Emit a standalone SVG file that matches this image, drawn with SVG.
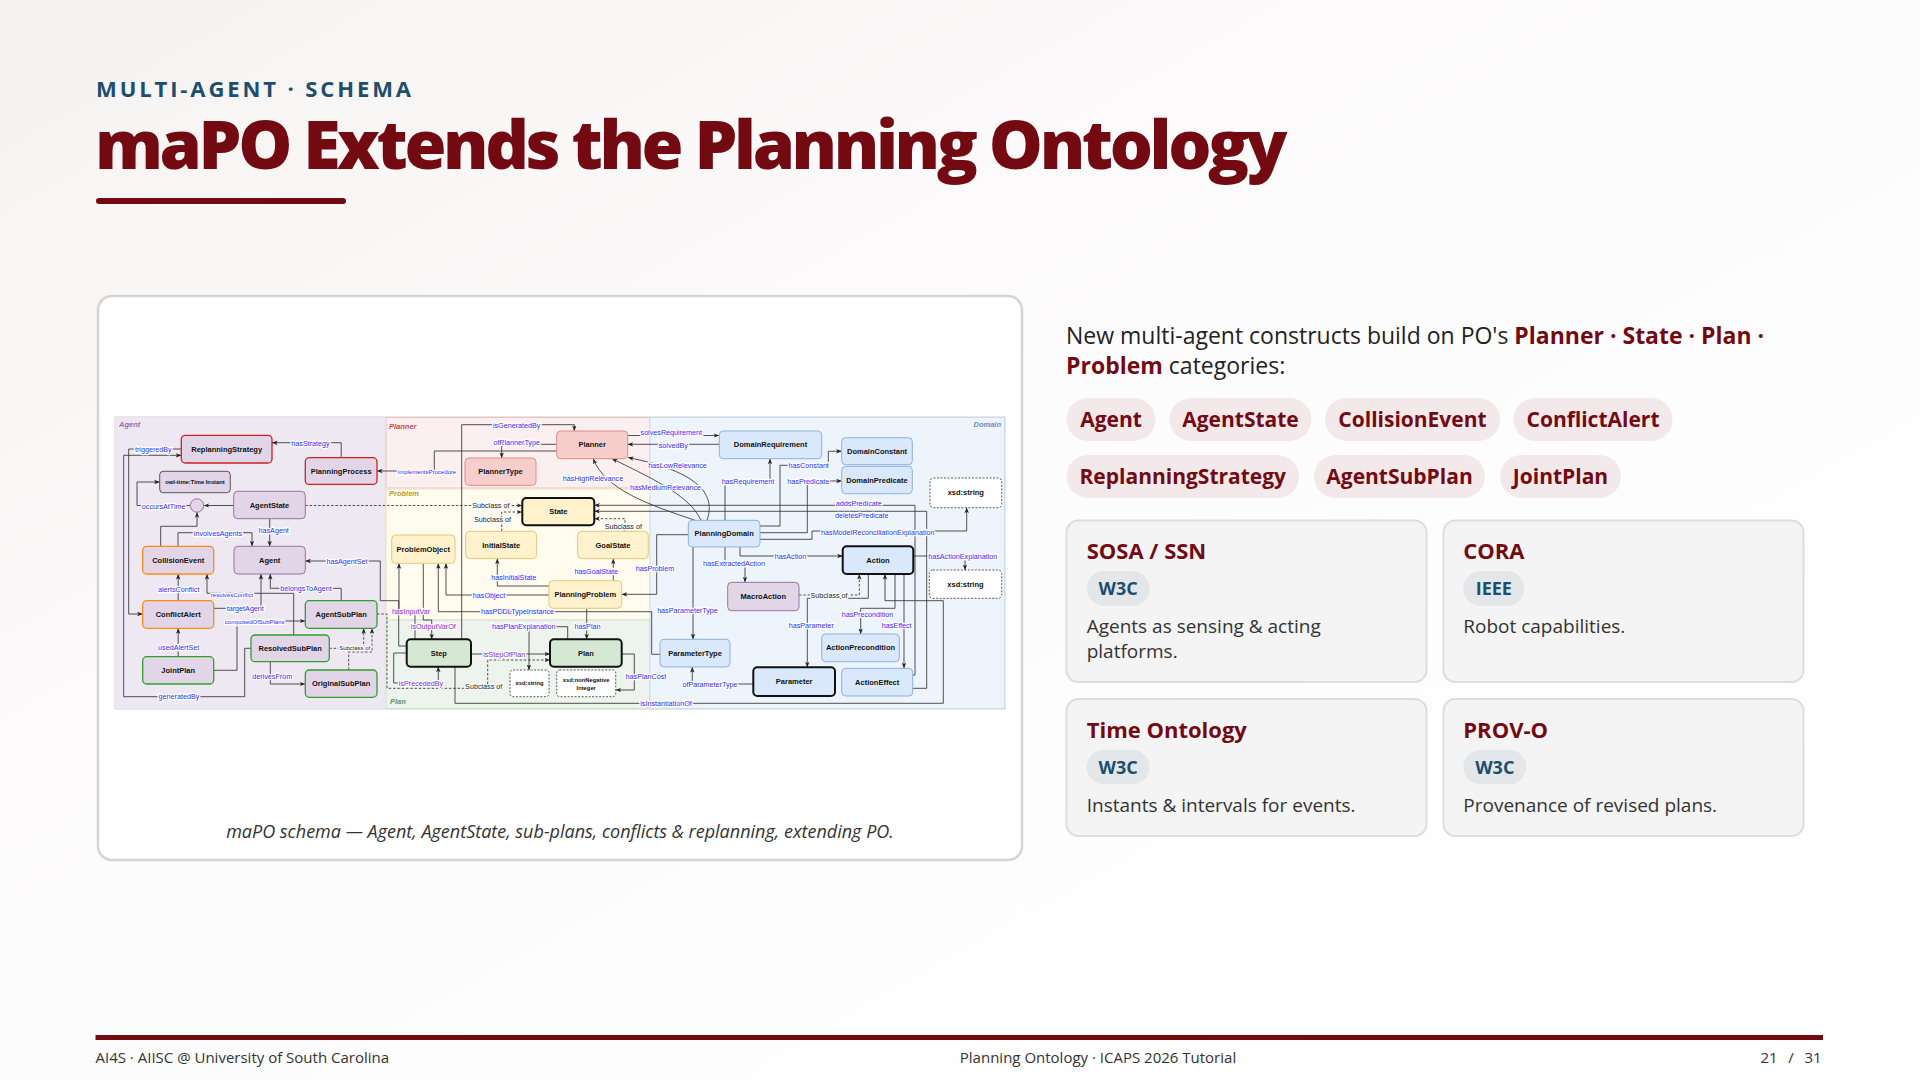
<svg xmlns="http://www.w3.org/2000/svg" width="1920" height="1080" viewBox="0 0 1920 1080">
<defs>
<linearGradient id="bg" x1="0" y1="0" x2="1" y2="1">
<stop offset="0" stop-color="#f6f2f2"/><stop offset="0.45" stop-color="#fdfcfc"/><stop offset="1" stop-color="#ffffff"/>
</linearGradient>
<marker id="ar" viewBox="0 0 10 10" refX="10" refY="5" markerWidth="5.5" markerHeight="5.5" markerUnits="userSpaceOnUse" orient="auto">
<path d="M0,1 L10,5 L0,9 L2.5,5 z" fill="#222"/>
</marker>
<style>
.kicker{font-family:"Open Sans","Liberation Sans",sans-serif;font-weight:700;font-size:22px;letter-spacing:2.9px;fill:#1d4e6e}
.title{font-family:"Open Sans","Liberation Sans",sans-serif;font-weight:800;font-size:68px;letter-spacing:-3.4px;fill:#730a12}
.cap{font-family:"Open Sans","Liberation Sans",sans-serif;font-style:italic;font-size:18px;fill:#333}
.intro{font-family:"Open Sans","Liberation Sans",sans-serif;font-size:23px;fill:#222}
.hl{font-weight:700;fill:#730a12}
.chip{fill:#f3e8ea}
.chipt{font-family:"Open Sans","Liberation Sans",sans-serif;font-weight:700;font-size:21px;fill:#730a12;text-anchor:middle}
.card{fill:#f4f4f4;stroke:#dddddd;stroke-width:2}
.ct{font-family:"Open Sans","Liberation Sans",sans-serif;font-weight:700;font-size:22px;fill:#730a12}
.badge{fill:#e3e7ea}
.bt{font-family:"Open Sans","Liberation Sans",sans-serif;font-weight:700;font-size:18px;fill:#1d4e6e;text-anchor:middle}
.cd{font-family:"Open Sans","Liberation Sans",sans-serif;font-size:19px;fill:#333}
.ft{font-family:"Open Sans","Liberation Sans",sans-serif;font-size:15px;fill:#333}
.rl{font-family:"Liberation Sans",Arial,sans-serif;font-style:italic;font-weight:700;font-size:7.5px}
.n{font-family:"Liberation Sans",Arial,sans-serif;font-weight:700;font-size:7.5px;fill:#111;text-anchor:middle;dominant-baseline:central}
.ns{font-size:5.8px}
.pu{fill:#e1d5e7;stroke:#9673a6;stroke-width:1}
.pr{fill:#e1d5e7;stroke:#d11f1f;stroke-width:1.3}
.po{fill:#e1d5e7;stroke:#ff8a14;stroke-width:1.3}
.pg{fill:#e1d5e7;stroke:#2ea02e;stroke-width:1.3}
.pk{fill:#e1d5e7;stroke:#333;stroke-width:0.8}
.rd{fill:#f8cecc;stroke:#e08c8c;stroke-width:1}
.yl{fill:#fff2cc;stroke:#e2c97a;stroke-width:1}
.yb{fill:#fff2cc;stroke:#111;stroke-width:2}
.gb{fill:#d5e8d4;stroke:#111;stroke-width:2}
.bl{fill:#dae8fc;stroke:#8fb0dc;stroke-width:1}
.bb{fill:#dae8fc;stroke:#111;stroke-width:2}
.xs{fill:#fff;stroke:#333;stroke-width:0.8;stroke-dasharray:2 1.5}
.c{fill:none;stroke:#333;stroke-width:0.85}
.ca{fill:none;stroke:#333;stroke-width:0.85;marker-end:url(#ar)}
.d{stroke-dasharray:2.5 1.8}
.e{font-family:"Liberation Sans",Arial,sans-serif;font-size:7.2px;fill:#2b2bff;text-anchor:middle;dominant-baseline:central;stroke:#fff;stroke-width:2.6;stroke-linejoin:round;paint-order:stroke}
.es{font-size:6px}
.ep{fill:#8a1ee0}
.ek{fill:#222}
</style>
</defs>

<rect x="0" y="0" width="1920" height="1080" fill="url(#bg)"/>

<text class="kicker" x="96" y="97">MULTI-AGENT · SCHEMA</text>
<text class="title" x="95" y="169">maPO Extends the Planning Ontology</text>
<rect x="96" y="198" width="250" height="6" rx="3" fill="#730a12"/>

<!-- left panel -->
<rect x="98" y="296" width="924" height="564" rx="14" fill="#ffffff" stroke="#d4d4d4" stroke-width="2.5"/>
<text class="cap" x="560" y="838" text-anchor="middle">maPO schema — Agent, AgentState, sub-plans, conflicts &amp; replanning, extending PO.</text>

<!-- schema regions -->
<g id="regions">
<rect x="115" y="417" width="890" height="292" fill="#ffffff" stroke="#d0d0d0" stroke-width="1"/>
<rect x="115.5" y="417.5" width="270.5" height="291" fill="#eee8f2"/>
<rect x="386" y="417.5" width="264" height="70.5" fill="#fbeff0" stroke="#e8b9b9" stroke-width="0.8"/>
<rect x="386" y="489" width="264" height="131" fill="#fffbef" stroke="#eadba6" stroke-width="0.8"/>
<rect x="386" y="620" width="264" height="88.5" fill="#edf3ed" stroke="#cddccd" stroke-width="0.8"/>
<rect x="650" y="417.5" width="354.5" height="291" fill="#eef4fc" stroke="#c9d8ee" stroke-width="0.8"/>
<text class="rl" x="119" y="427" fill="#9673a6">Agent</text>
<text class="rl" x="389" y="429" fill="#c0504d">Planner</text>
<text class="rl" x="389" y="496" fill="#b89a30">Problem</text>
<text class="rl" x="390" y="704" fill="#6e8f6e">Plan</text>
<text class="rl" x="1001" y="427" fill="#6c8ebf" text-anchor="end">Domain</text>
</g>

<!-- connectors -->
<g id="connectors">
<path class="ca" d="M341.2,457.7 V442.7 H272"/>
<path class="ca" d="M556.7,451 H434.3 V471 H377"/>
<path class="ca" d="M181.3,449 H128.7 V614 H142.7"/>
<path class="ca" d="M251,648.3 H244.7 V696.7 H123.7 V455.3 H181.3"/>
<path class="ca" d="M233.7,505.5 H203.7"/>
<path class="ca" d="M190.3,505.5 H137 V482 H159.7"/>
<path class="ca" d="M160.7,546.3 V526.3 H197 V512.2"/>
<path class="ca" d="M178,546.3 V532.7 H252 V546.3"/>
<path class="ca" d="M269.7,518.7 V546.3"/>
<path class="ca d" d="M305.3,505.5 H522.3"/>
<path class="ca" d="M406.7,646 H398.7 V600.7 H380.3 V561 H305.3"/>
<path class="ca" d="M178.2,600.7 V574"/>
<path class="ca" d="M293.7,635 V593.3 H207 V574"/>
<path class="ca" d="M341.2,600.7 V588.3 H270.3 V574"/>
<path class="ca" d="M213.7,608.3 H261 V574"/>
<path class="ca" d="M178.2,656.7 V628.3"/>
<path class="ca" d="M213.7,670.3 H237 V621 H305.3"/>
<path class="ca d" d="M329.3,648.3 H363.7 V628.3"/>
<path class="ca d" d="M348.7,670 V652 H372 V628.3"/>
<path class="ca" d="M270.3,661.7 V684 H305.3"/>
<path class="ca d" d="M377,614 H387 V688.3 H487.7 V660 H550"/>
<path class="ca" d="M415,639.3 V611 H399 V563.3"/>
<path class="ca" d="M423.3,563.3 V620 H431.7 V639.3"/>
<path class="ca" d="M471,654 H550"/>
<path class="ca" d="M406.7,653 H393.7 V683 H438.3 V666.7"/>
<path class="ca" d="M455,666.7 V703.3 H943.3 V600.7 H885 V574"/>
<path class="ca" d="M567.7,639.3 V626.7 H529 V670"/>
<path class="ca" d="M586.7,608.3 V639.3"/>
<path class="ca" d="M621.7,654 H634.3 V690 H615.7"/>
<path class="ca" d="M549,595 H446 V563.3"/>
<path class="ca" d="M660,654.3 H651.7 V611.7 H438.3 V563.3"/>
<path class="ca" d="M549,586 H497.3 V558.6"/>
<path class="ca" d="M613.3,580.7 V558.7"/>
<path class="ca" d="M461.7,639.3 V424.7 H574.3 V431"/>
<path class="ca" d="M556.7,444.3 H501.7 V458"/>
<path class="ca" d="M627.7,435.5 H719.3"/>
<path class="ca" d="M719.3,444.3 H627.7"/>
<path class="ca" d="M707,520.3 C716,495 700,472 628,457.5"/>
<path class="ca" d="M701,520.3 C690,497 660,482 612,458.7"/>
<path class="ca" d="M695,520.3 C650,505 605,490 593.3,458.7"/>
<path class="ca" d="M725,520.3 V481 H770 V458.7"/>
<path class="ca" d="M760,526 H780 V465.3 H828.3 V451.3 H841.7"/>
<path class="ca" d="M760,532.7 H807.3 V481 H841.7"/>
<path class="ca" d="M760,539.3 H812 V531 H966.7 V507.7"/>
<path class="ca" d="M740,547 V556 H842.7"/>
<path class="ca" d="M913.3,556 H965 V570"/>
<path class="ca" d="M725,547 V563 H745 V582.3"/>
<path class="ca d" d="M799,595 H859.3 V574"/>
<path class="ca" d="M868.3,574 V598.3 H807.3 V667.3"/>
<path class="ca" d="M895,574 V608.3 H860.7 V634"/>
<path class="ca" d="M904,574 V668.3"/>
<path class="ca" d="M912.7,675 H915 V505.3 H594.3"/>
<path class="ca" d="M912.7,688.3 H926.7 V511.3 H594.3"/>
<path class="ca" d="M688.3,534.7 H656.7 V594.3 H621.7"/>
<path class="ca" d="M693,547 V639.3"/>
<path class="ca" d="M753.3,684 H692.3 V667"/>
<path class="ca d" d="M501.7,531.3 V512 H522.3"/>
<path class="ca d" d="M625,531.3 V518.7 H594.3"/>

<text class="e" x="310.5" y="443">hasStrategy</text>
<text class="e es" x="427" y="471.5">implementsProcedure</text>
<text class="e" x="153.3" y="449.5">triggeredBy</text>
<text class="e" x="179" y="696.7">generatedBy</text>
<text class="e" x="163.7" y="506">occursAtTime</text>
<text class="e" x="218" y="533.5">involvesAgents</text>
<text class="e" x="273.7" y="530.3">hasAgent</text>
<text class="e ek" x="490.8" y="505.8">Subclass of</text>
<text class="e" x="347" y="561">hasAgentSet</text>
<text class="e" x="178.7" y="589.3">alertsConflict</text>
<text class="e es" x="232" y="594.5">resolvesConflict</text>
<text class="e" x="306" y="588.3">belongsToAgent</text>
<text class="e" x="245.3" y="608.3">targetAgent</text>
<text class="e" x="178.7" y="647.3">usedAlertSet</text>
<text class="e es" x="254.7" y="622">composedOfSubPlans</text>
<text class="e ek es" x="354.7" y="648.3">Subclass of</text>
<text class="e" x="272.2" y="676.7">derivesFrom</text>
<text class="e ek" x="483.7" y="686">Subclass of</text>
<text class="e ep" x="411" y="611">hasInputVar</text>
<text class="e ep" x="433.3" y="626">isOutputVarOf</text>
<text class="e ep" x="504.2" y="654">isStepOfPlan</text>
<text class="e ep" x="421" y="683">isPrecededBy</text>
<text class="e" x="666" y="703.3">isInstantiationOf</text>
<text class="e" x="523.8" y="626.7">hasPlanExplanation</text>
<text class="e" x="587.5" y="626">hasPlan</text>
<text class="e" x="646" y="676.7">hasPlanCost</text>
<text class="e" x="489" y="595">hasObject</text>
<text class="e" x="517.5" y="611.5">hasPDDLTypeInstance</text>
<text class="e" x="513.8" y="577.3">hasInitialState</text>
<text class="e" x="596.3" y="571.7">hasGoalState</text>
<text class="e" x="516.7" y="425.8">isGeneratedBy</text>
<text class="e" x="516.8" y="442">ofPlannerType</text>
<text class="e" x="671.3" y="432.5">solvesRequirement</text>
<text class="e" x="673.3" y="445">solvedBy</text>
<text class="e" x="677.5" y="465.3">hasLowRelevance</text>
<text class="e" x="665.5" y="487">hasMediumRelevance</text>
<text class="e" x="593" y="478.7">hasHighRelevance</text>
<text class="e" x="748" y="481">hasRequirement</text>
<text class="e" x="808.7" y="465.3">hasConstant</text>
<text class="e" x="808.3" y="481">hasPredicate</text>
<text class="e" x="877.8" y="532">hasModelReconciliationExplanation</text>
<text class="e" x="790.5" y="556">hasAction</text>
<text class="e" x="962.8" y="556">hasActionExplanation</text>
<text class="e" x="734" y="563">hasExtractedAction</text>
<text class="e ek" x="829" y="595">Subclass of</text>
<text class="e" x="811.3" y="625.7">hasParameter</text>
<text class="e" x="867.5" y="614">hasPrecondition</text>
<text class="e" x="896.7" y="625.7">hasEffect</text>
<text class="e" x="858.8" y="503">addsPredicate</text>
<text class="e" x="861.7" y="515.5">deletesPredicate</text>
<text class="e" x="655" y="568.3">hasProblem</text>
<text class="e" x="687.5" y="610">hasParameterType</text>
<text class="e" x="710" y="684">ofParameterType</text>
<text class="e ek" x="492.5" y="519.7">Subclass of</text>
<text class="e ek" x="623.3" y="526.3">Subclass of</text>
</g>

<!-- Agent nodes -->
<g id="n-replanningstrategy"><rect class="pr" x="181.3" y="435.3" width="90.7" height="27.7" rx="4"/><text class="n" x="226.7" y="449.2">ReplanningStrategy</text></g>
<g id="n-planningprocess"><rect class="pr" x="305.3" y="457.7" width="71.7" height="26.7" rx="4"/><text class="n" x="341.2" y="471">PlanningProcess</text></g>
<g id="n-owltime"><rect class="pk" x="159.7" y="471.3" width="70.6" height="21.4" rx="3.5"/><text class="n ns" x="195" y="482">owl-time:Time Instant</text></g>
<g id="n-instant"><circle cx="197" cy="505.5" r="6.7" fill="#e1d5e7" stroke="#9673a6" stroke-width="1"/></g>
<g id="n-agentstate"><rect class="pu" x="233.7" y="491.3" width="71.6" height="27.4" rx="4"/><text class="n" x="269.5" y="505">AgentState</text></g>
<g id="n-collisionevent"><rect class="po" x="142.7" y="546.3" width="71" height="27.7" rx="4"/><text class="n" x="178.2" y="560.2">CollisionEvent</text></g>
<g id="n-agent"><rect class="pu" x="234" y="546.3" width="71.3" height="27.7" rx="4"/><text class="n" x="269.7" y="560.2">Agent</text></g>
<g id="n-conflictalert"><rect class="po" x="142.7" y="600.7" width="71" height="27.6" rx="4"/><text class="n" x="178.2" y="614.5">ConflictAlert</text></g>
<g id="n-agentsubplan"><rect class="pg" x="305.3" y="600.7" width="71.7" height="27.6" rx="4"/><text class="n" x="341.2" y="614.5">AgentSubPlan</text></g>
<g id="n-resolvedsubplan"><rect class="pg" x="251" y="635" width="78.3" height="26.7" rx="4"/><text class="n" x="290.2" y="648.3">ResolvedSubPlan</text></g>
<g id="n-jointplan"><rect class="pg" x="142.7" y="656.7" width="71" height="27.3" rx="4"/><text class="n" x="178.2" y="670.3">JointPlan</text></g>
<g id="n-originalsubplan"><rect class="pg" x="305.3" y="670" width="71.7" height="27.3" rx="4"/><text class="n" x="341.2" y="683.7">OriginalSubPlan</text></g>

<!-- Planner nodes -->
<g id="n-planner"><rect class="rd" x="556.7" y="431" width="71" height="27.7" rx="4"/><text class="n" x="592.2" y="444.8">Planner</text></g>
<g id="n-plannertype"><rect class="rd" x="465" y="458" width="71" height="27.3" rx="4"/><text class="n" x="500.5" y="471.7">PlannerType</text></g>

<!-- Problem nodes -->
<g id="n-state"><rect class="yb" x="522.3" y="498" width="72" height="27.3" rx="4"/><text class="n" x="558.3" y="511.7">State</text></g>
<g id="n-problemobject"><rect class="yl" x="391.7" y="535" width="63.3" height="28.3" rx="4"/><text class="n" x="423.3" y="549.2">ProblemObject</text></g>
<g id="n-initialstate"><rect class="yl" x="465.7" y="531.3" width="71" height="27.3" rx="4"/><text class="n" x="501.2" y="545">InitialState</text></g>
<g id="n-goalstate"><rect class="yl" x="577.7" y="531.3" width="70.6" height="27.4" rx="4"/><text class="n" x="613" y="545">GoalState</text></g>
<g id="n-planningproblem"><rect class="yl" x="549" y="580.7" width="72.7" height="27.6" rx="4"/><text class="n" x="585.3" y="594.5">PlanningProblem</text></g>

<!-- Plan nodes -->
<g id="n-step"><rect class="gb" x="406.7" y="639.3" width="64.3" height="27.4" rx="4"/><text class="n" x="438.8" y="653">Step</text></g>
<g id="n-plan"><rect class="gb" x="550" y="639.3" width="71.7" height="27.4" rx="4"/><text class="n" x="585.8" y="653">Plan</text></g>
<g id="n-xsdstring3"><rect class="xs" x="510" y="670" width="39" height="26.7" rx="3"/><text class="n ns" x="529.5" y="683.3">xsd:string</text></g>
<g id="n-xsdnonneg"><rect class="xs" x="556.7" y="670" width="59" height="26.7" rx="3"/><text class="n ns" x="586.2" y="679.5">xsd:nonNegative</text><text class="n ns" x="586.2" y="687.5">Integer</text></g>

<!-- Domain nodes -->
<g id="n-domainrequirement"><rect class="bl" x="719.3" y="431" width="102.4" height="27.7" rx="4"/><text class="n" x="770.5" y="444.8">DomainRequirement</text></g>
<g id="n-domainconstant"><rect class="bl" x="841.7" y="437.7" width="70.6" height="27" rx="4"/><text class="n" x="877" y="451.2">DomainConstant</text></g>
<g id="n-domainpredicate"><rect class="bl" x="841.7" y="466.3" width="70.6" height="27.4" rx="4"/><text class="n" x="877" y="480">DomainPredicate</text></g>
<g id="n-xsdstring1"><rect class="xs" x="930" y="478" width="71.7" height="29.7" rx="3.5"/><text class="n" x="965.8" y="492.8">xsd:string</text></g>
<g id="n-planningdomain"><rect class="bl" x="688.3" y="520.3" width="71.7" height="26.7" rx="4"/><text class="n" x="724.2" y="533.7">PlanningDomain</text></g>
<g id="n-action"><rect class="bb" x="842.7" y="546.3" width="70.6" height="27.7" rx="4"/><text class="n" x="878" y="560.2">Action</text></g>
<g id="n-xsdstring2"><rect class="xs" x="929.3" y="570" width="72.4" height="28.3" rx="3.5"/><text class="n" x="965.5" y="584.2">xsd:string</text></g>
<g id="n-macroaction"><rect class="pu" x="727.7" y="582.3" width="71.3" height="28.4" rx="4"/><text class="n" x="763.3" y="596.5">MacroAction</text></g>
<g id="n-actionprecondition"><rect class="bl" x="821.7" y="634" width="77.6" height="27.7" rx="4"/><text class="n" x="860.5" y="647.8">ActionPrecondition</text></g>
<g id="n-parametertype"><rect class="bl" x="660" y="639.3" width="70" height="27.7" rx="4"/><text class="n" x="695" y="653.2">ParameterType</text></g>
<g id="n-parameter"><rect class="bb" x="753.3" y="667.3" width="81.7" height="28.7" rx="4"/><text class="n" x="794.2" y="681.7">Parameter</text></g>
<g id="n-actioneffect"><rect class="bl" x="841.7" y="668.3" width="71" height="27.7" rx="4"/><text class="n" x="877.2" y="682.2">ActionEffect</text></g>

<!-- right column -->
<text class="intro" x="1066" y="344">New multi-agent constructs build on PO's <tspan class="hl">Planner · State · Plan ·</tspan></text>
<text class="intro" x="1066" y="374"><tspan class="hl">Problem</tspan> categories:</text>

<g id="chips">
<rect class="chip" x="1066.5" y="398" width="89" height="43" rx="21.5"/><text class="chipt" x="1111" y="427">Agent</text>
<rect class="chip" x="1169.5" y="398" width="142" height="43" rx="21.5"/><text class="chipt" x="1240.5" y="427">AgentState</text>
<rect class="chip" x="1325" y="398" width="175" height="43" rx="21.5"/><text class="chipt" x="1412.5" y="427">CollisionEvent</text>
<rect class="chip" x="1513.5" y="398" width="159" height="43" rx="21.5"/><text class="chipt" x="1593" y="427">ConflictAlert</text>
<rect class="chip" x="1066.5" y="455" width="232.5" height="43" rx="21.5"/><text class="chipt" x="1182.8" y="484">ReplanningStrategy</text>
<rect class="chip" x="1314" y="455" width="171" height="43" rx="21.5"/><text class="chipt" x="1399.5" y="484">AgentSubPlan</text>
<rect class="chip" x="1500" y="455" width="121" height="43" rx="21.5"/><text class="chipt" x="1560.5" y="484">JointPlan</text>
</g>

<g id="card-sosa">
<rect class="card" x="1066.5" y="520.5" width="360" height="161.5" rx="12"/>
<text class="ct" x="1086.7" y="559">SOSA / SSN</text>
<rect class="badge" x="1086.7" y="571" width="63" height="35" rx="17.5"/><text class="bt" x="1118.2" y="595">W3C</text>
<text class="cd" x="1086.7" y="633.3">Agents as sensing &amp; acting</text>
<text class="cd" x="1086.7" y="658.3">platforms.</text>
</g>
<g id="card-cora">
<rect class="card" x="1443.5" y="520.5" width="360" height="161.5" rx="12"/>
<text class="ct" x="1463.3" y="559">CORA</text>
<rect class="badge" x="1463.3" y="571" width="61" height="35" rx="17.5"/><text class="bt" x="1493.8" y="595">IEEE</text>
<text class="cd" x="1463.3" y="633.3">Robot capabilities.</text>
</g>
<g id="card-time">
<rect class="card" x="1066.5" y="699" width="360" height="137" rx="12"/>
<text class="ct" x="1086.7" y="737.7">Time Ontology</text>
<rect class="badge" x="1086.7" y="750" width="63" height="34.3" rx="17"/><text class="bt" x="1118.2" y="773.8">W3C</text>
<text class="cd" x="1086.7" y="811.7">Instants &amp; intervals for events.</text>
</g>
<g id="card-prov">
<rect class="card" x="1443.5" y="699" width="360" height="137" rx="12"/>
<text class="ct" x="1463.3" y="737.7">PROV-O</text>
<rect class="badge" x="1463.3" y="750" width="63" height="34.3" rx="17"/><text class="bt" x="1494.8" y="773.8">W3C</text>
<text class="cd" x="1463.3" y="811.7">Provenance of revised plans.</text>
</g>

<!-- footer -->
<rect x="95.5" y="1035" width="1727.5" height="5" fill="#730a12"/>
<text class="ft" x="95.5" y="1063">AI4S · AIISC @ University of South Carolina</text>
<text class="ft" x="1098" y="1063" text-anchor="middle">Planning Ontology · ICAPS 2026 Tutorial</text>
<text class="ft" x="1769" y="1063" text-anchor="middle">21</text>
<text class="ft" x="1791" y="1063" text-anchor="middle">/</text>
<text class="ft" x="1813" y="1063" text-anchor="middle">31</text>
</svg>
